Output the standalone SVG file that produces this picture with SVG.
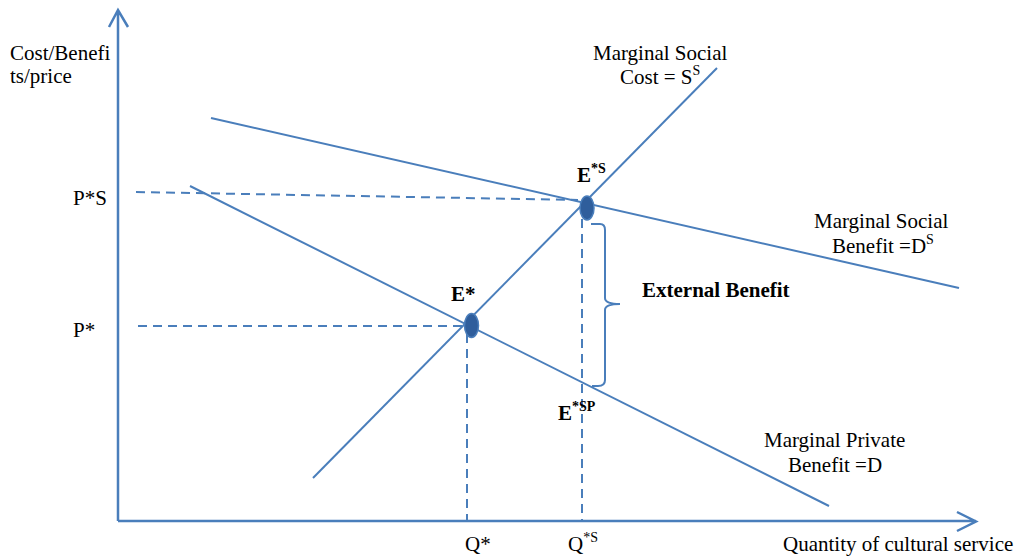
<svg xmlns="http://www.w3.org/2000/svg" width="1018" height="559" viewBox="0 0 1018 559">
<style>
.ax{stroke:#4A7EBB;stroke-width:2.5;fill:none}
.ln{stroke:#4A7EBB;stroke-width:2;fill:none}
.ds{stroke:#4A7EBB;stroke-width:2;fill:none;stroke-dasharray:9 6}
.pt{fill:#2F5E9C;stroke:#4A7EBB;stroke-width:1.5}
text{font-family:"Liberation Serif","Times New Roman",serif;font-size:21px;fill:#000}
.b{font-weight:bold}
.sup{font-size:14px}
</style>
<rect width="1018" height="559" fill="#fff"/>
<g id="connectors">
<path class="ax" d="M118,521 V10 M109,27 L118,10 L128,27"/>
<path class="ax" d="M118,521 H976 M957,512 L976,521.5 L957,531"/>
<path class="ln" d="M313,478 L717,68"/>
<path class="ln" d="M211,118 L959,288"/>
<path class="ln" d="M190,186 L829,506"/>
<path class="ds" d="M136,192 L578,200"/>
<path class="ds" d="M138,326 L462,326"/>
<path class="ds" d="M467,334 V521"/>
<path class="ds" d="M582,219 V521"/>
<path class="ln" d="M591,224 H600 Q605,224 605,230 V298 Q605,304 620,304 Q605,304 605,310 V380 Q605,386 598,386 H592"/>
</g>
<g id="E_star_S"><ellipse class="pt" cx="587" cy="208" rx="7" ry="12"/></g>
<g id="E_star"><ellipse class="pt" cx="471.5" cy="325.5" rx="7" ry="12"/></g>
<g id="labels">
<text x="10" y="60">Cost/Benefi</text>
<text x="10" y="83">ts/price</text>
<text x="593" y="60">Marginal Social</text>
<text x="620" y="84">Cost = S<tspan class="sup" dy="-9">S</tspan></text>
<text x="577" y="182" class="b">E<tspan class="sup" dy="-9">*S</tspan></text>
<text x="73" y="205">P*S</text>
<text x="73" y="337">P*</text>
<text x="451" y="301" class="b">E*</text>
<text x="642" y="297" class="b">External Benefit</text>
<text x="558" y="420" class="b">E<tspan class="sup" dy="-9">*SP</tspan></text>
<text x="814" y="228">Marginal Social</text>
<text x="832" y="253">Benefit =D<tspan class="sup" dy="-9">S</tspan></text>
<text x="764" y="447">Marginal Private</text>
<text x="788" y="472">Benefit =D</text>
<text x="465" y="551">Q*</text>
<text x="568" y="551">Q<tspan class="sup" dy="-9">*S</tspan></text>
<text x="783" y="551">Quantity of cultural service</text>
</g>
</svg>
